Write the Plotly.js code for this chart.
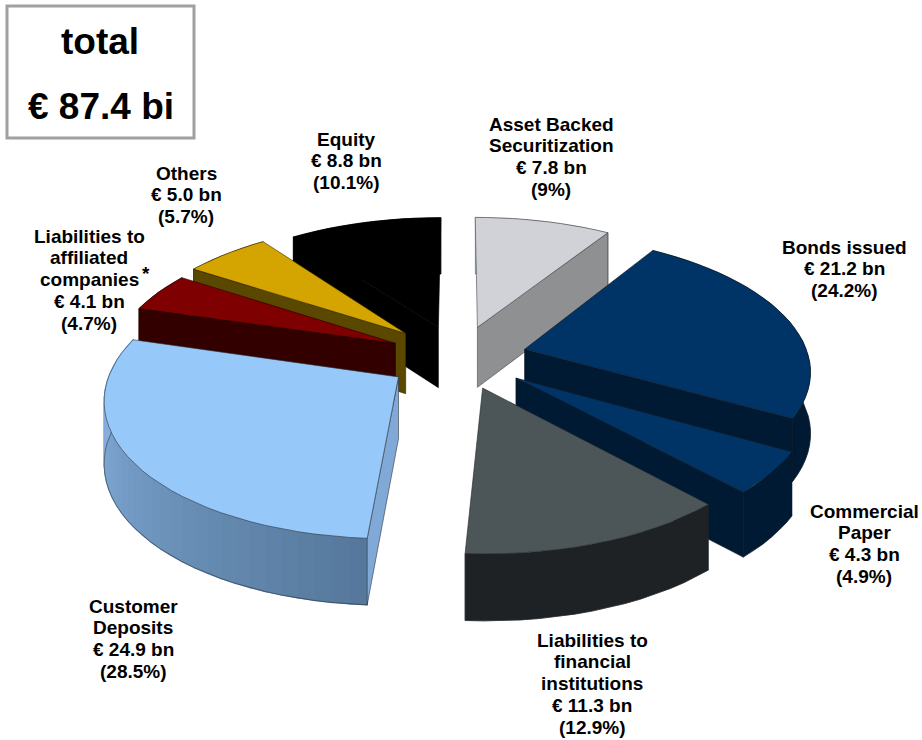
<!DOCTYPE html>
<html>
<head>
<meta charset="utf-8">
<script src="https://cdn.plot.ly/plotly-3.0.1.min.js"></script>
<style>html,body{margin:0;padding:0;background:#fff}</style>
</head>
<body>
<div id="chart" style="width:922px;height:740px"></div>
<script>
// ---- data, clockwise from 12 o'clock ----
const categories = ["Asset Backed|Securitization","Bonds issued","Commercial|Paper","Liabilities to|financial|institutions","Customer|Deposits","Liabilities to|affiliated|companies","Others","Equity"];
const amountsBn = [7.8,21.2,4.3,11.3,24.9,4.1,5.0,8.8];
const percentShown = ["9%","24.2%","4.9%","12.9%","28.5%","4.7%","5.7%","10.1%"];
const shares = [9,24.2,4.9,12.9,28.5,4.7,5.7,10.1];
const totalText = "€ 87.4 bi";

// ---- styles ----
const topColors  = ["#D0D2D7","#003366","#003366","#4C5557","#97C8FA","#7F0000","#D4A500","#000000"];
const wallFrom   = ["#8F9092","#001A33","#001A33","#1F2224","#8DB9E8","#330000","#5A4700","#000000"];
const wallTo     = ["#8F9092","#001A33","#001A33","#1F2224","#56789C","#330000","#5A4700","#000000"];
const cutColors  = ["#8F9092","#001A33","#001A33","#1F2224","#80A9D8","#330000","#5A4700","#000000"];
const edgeColors = ["#404448","#101820","#101820","#20262c","#30363c","#200000","#302800","#000000"];
const drawOrder  = [7,0,6,5,4,1,2,3];
const explodeBy  = [0.24,0.24,0.25,0.24,0.255,0.25,0.265,0.24];
const labelX = [551,844,864,592,133,89,186,346];
const labelTop = [124,247,511,640,606,236,173,139];
const lineStep = 21.8;

// ---- projection of the tilted disc ----
const cx=459, cy=357, A=284, B=133, k=0.14, depth=61;
function project(X,Y,z){const w=1+k*Y;return [cx+A*X/w, cy-B*Y/w+z*depth/Math.sqrt(w)];}
const rad=d=>d*Math.PI/180;
function hex(c){return [1,3,5].map(i=>parseInt(c.substr(i,2),16));}
function mix(a,b,t){const p=hex(a),q=hex(b);return 'rgb('+p.map((v,i)=>Math.round(v+(q[i]-v)*t)).join(',')+')';}

const traces=[];
function poly(pts,fill,line,lw){
  traces.push({type:'scatter',mode:'lines',x:pts.map(p=>p[0]).concat(pts[0][0]),y:pts.map(p=>p[1]).concat(pts[0][1]),
    fill:'toself',fillcolor:fill,line:{color:line||fill,width:lw===undefined?0.6:lw},hoverinfo:'skip',showlegend:false});
}
const total=shares.reduce((a,b)=>a+b,0);
let acc=0;
const spans=shares.map(s=>{const a=acc/total*360;acc+=s;return [a,acc/total*360];});

drawOrder.forEach(i=>{
  const [a0,a1]=spans[i], m=(a0+a1)/2, e=explodeBy[i];
  const ox=e*Math.sin(rad(m)), oy=e*Math.cos(rad(m));
  const pt=(th,z)=>project(ox+Math.sin(rad(th)),oy+Math.cos(rad(th)),z);
  const apex=z=>project(ox,oy,z);
  const n=Math.max(3,Math.round((a1-a0)/3));
  const arc=[];for(let j=0;j<=n;j++)arc.push(a0+(a1-a0)*j/n);
  // outer wall: solid base first so seams cannot show, then the gradient strips
  poly(arc.map(th=>pt(th,0)).concat(arc.slice().reverse().map(th=>pt(th,1))),wallFrom[i],wallFrom[i],0.5);
  if(wallFrom[i]!==wallTo[i]) for(let j=0;j<n;j++){
    const t=j/(n-1||1);
    const tt=(a0>=180)?1-t:t;
    poly([pt(arc[j],0),pt(arc[j+1],0),pt(arc[j+1],1),pt(arc[j],1)],mix(wallFrom[i],wallTo[i],tt),mix(wallFrom[i],wallTo[i],tt),1.2);
  }
  const wallOutline=arc.map(th=>pt(th,1)).concat([pt(a1,0)]);
  traces.push({type:'scatter',mode:'lines',x:wallOutline.map(p=>p[0]),y:wallOutline.map(p=>p[1]),line:{color:edgeColors[i],width:0.6},hoverinfo:'skip',showlegend:false});
  // cut faces turned toward the viewer
  if(Math.sin(rad(a0))<-1e-6) poly([apex(0),pt(a0,0),pt(a0,1),apex(1)],cutColors[i],edgeColors[i]);
  if(Math.sin(rad(a1))>1e-6) poly([apex(0),pt(a1,0),pt(a1,1),apex(1)],cutColors[i],edgeColors[i]);
  // top face
  poly([apex(0)].concat(arc.map(th=>pt(th,0))),topColors[i],edgeColors[i]);
});

const bold="'Liberation Sans', Arial, sans-serif";
const annotations=[];
categories.forEach((c,i)=>{
  const lines=c.split('|').concat(['€ '+amountsBn[i].toFixed(1)+' bn','('+percentShown[i]+')']);
  lines.forEach((t,j)=>annotations.push({
    x:labelX[i],y:labelTop[i]+j*lineStep,xref:'x',yref:'y',xanchor:'center',yanchor:'middle',showarrow:false,
    text:'<b>'+t+'</b>',font:{family:bold,size:19,color:'#000'}
  }));
});
annotations.push({x:146,y:273,xref:'x',yref:'y',showarrow:false,text:'<b>*</b>',font:{family:bold,size:19,color:'#000'}});
annotations.push({x:100,y:41,xref:'x',yref:'y',showarrow:false,text:'<b>total</b>',font:{family:bold,size:37,color:'#000'}});
annotations.push({x:101,y:106,xref:'x',yref:'y',showarrow:false,text:'<b>'+totalText+'</b>',font:{family:bold,size:37,color:'#000'}});

Plotly.newPlot('chart',traces,{
  width:922,height:740,margin:{l:0,r:0,t:0,b:0},showlegend:false,
  paper_bgcolor:'#fff',plot_bgcolor:'#fff',
  xaxis:{range:[0,922],visible:false,fixedrange:true},
  yaxis:{range:[740,0],visible:false,fixedrange:true},
  annotations:annotations,
  shapes:[{type:'rect',xref:'x',yref:'y',x0:7,y0:6,x1:194,y1:138,line:{color:'#A0A0A0',width:3},fillcolor:'#fff'}]
},{displayModeBar:false,staticPlot:true});
</script>
</body>
</html>
